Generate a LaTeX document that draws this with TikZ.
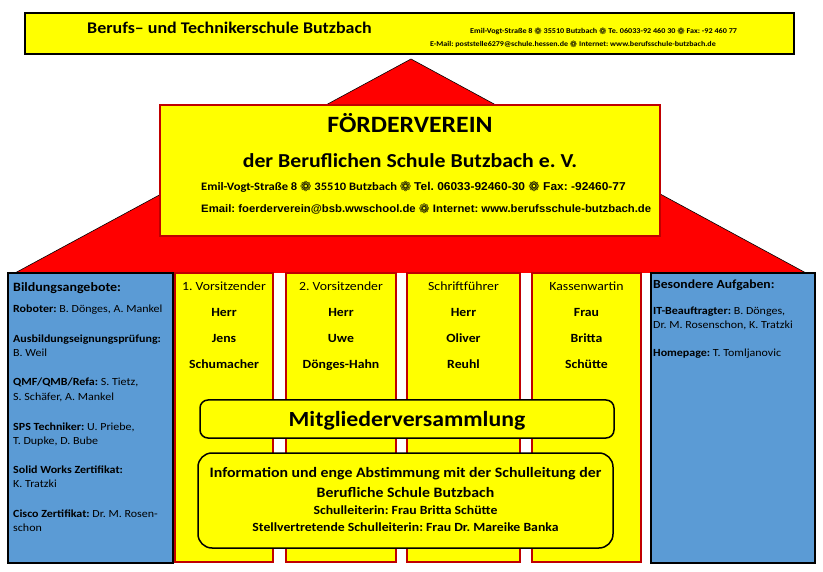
\documentclass[tikz,border=0pt]{standalone}
\usepackage{fontspec}
\setmainfont{Carlito}[FakeStretch=1.1]
\newfontfamily\arialfont{Liberation Sans}[FakeStretch=1.05]
\newfontfamily\symfont{DejaVu Sans}
\definecolor{roofred}{RGB}{255,0,0}
\definecolor{boxyellow}{RGB}{255,255,0}
\definecolor{panelblue}{RGB}{91,155,213}
\definecolor{edgered}{RGB}{192,0,0}
\newcommand\flw{\raisebox{-0.1ex}{\scalebox{1.2}{\symfont\char"2741}}}
\newcommand\fs[1]{\fontsize{#1}{#1}\selectfont}
\frenchspacing
\tikzset{
  colbox/.style={fill=boxyellow, draw=edgered, line width=1.2pt},
  panel/.style={fill=panelblue, draw=black, line width=2pt},
  roundbox/.style={fill=boxyellow, draw=black, line width=1.5pt, rounded corners=10pt},
  txt/.style={inner sep=0pt, anchor=base},
  ltxt/.style={inner sep=0pt, anchor=base west},
}
\begin{document}
\begin{tikzpicture}[x=1pt, y=-1pt]
  \useasboundingbox (0,0) rectangle (823,572);
  \draw[fill=boxyellow, line width=1.6pt] (25,13) rectangle (794,54);
  \node[ltxt, font=\bfseries\fs{16.3}] (school) at (87,34) {Berufs-- und Technikerschule Butzbach};
  \node[ltxt, font=\bfseries\fs{7.4}] (contact1) at (470,34)
    {Emil-Vogt-Straße 8 \flw{} 35510 Butzbach \flw{} Te. 06033-92 460 30 \flw{} Fax: -92 460 77};
  \node[ltxt, font=\bfseries\fs{7.3}] (contact2) at (430,47)
    {E-Mail: poststelle6279@schule.hessen.de \flw{} Internet: www.berufsschule-butzbach.de};
  \fill[roofred] (15,273) -- (411,59) -- (806,273) -- cycle;
  \draw[line width=0.6pt] (15,273) -- (411,59) -- (806,273);
  \draw[fill=boxyellow, draw=edgered, line width=2pt] (160,105) rectangle (660,236);
  \node[txt, font=\bfseries\fs{23.4}] (verein) at (410,133) {FÖRDERVEREIN};
  \node[txt, font=\bfseries\fs{19.8}] (schule) at (410,168) {der Beruflichen Schule Butzbach e. V.};
  \node[ltxt, font=\bfseries\fs{11.4}] (adresse) at (201,191)
    {Emil-Vogt-Straße 8 \flw{} 35510 Butzbach \flw{} {\arialfont Tel. 06033-92460-30 \flw{} Fax: -92460-77}};
  \node[ltxt, font=\arialfont\bfseries\fs{10.8}] (email) at (201,213)
    {Email: foerderverein@bsb.wwschool.de \flw{} Internet: www.berufsschule-butzbach.de};
  \foreach \xa/\xb/\role/\ta/\tb/\tc [count=\i] in {175/273/1. Vorsitzender/Herr/Jens/Schumacher,
      286/396/2. Vorsitzender/Herr/Uwe/Dönges-Hahn, 407/520/Schriftführer/Herr/Oliver/Reuhl,
      532/641/Kassenwartin/Frau/Britta/Schütte}{
    \draw[colbox] (\xa,273) rectangle (\xb,562);
    \node[txt, font=\fs{12.5}] (role\i) at ({(\xa+\xb)/2},291) {\role};
    \node[txt, font=\bfseries\fs{12.5}] (name\i a) at ({(\xa+\xb)/2},317) {\ta};
    \node[txt, font=\bfseries\fs{12.5}] (name\i b) at ({(\xa+\xb)/2},343) {\tb};
    \node[txt, font=\bfseries\fs{12.5}] (name\i c) at ({(\xa+\xb)/2},369) {\tc};
  }
  \draw[roundbox, rounded corners=8pt] (200,400) rectangle (614,438);
  \node[txt, font=\bfseries\fs{21.6}] (mv) at (407,427) {Mitgliederversammlung};
  \draw[roundbox, rounded corners=14pt] (198,453) rectangle (613,548);
  \node[txt, font=\bfseries\fs{14.4}] (info1) at (405.5,477) {Information und enge Abstimmung mit der Schulleitung der};
  \node[txt, font=\bfseries\fs{14.4}] (info2) at (405.5,497) {Berufliche Schule Butzbach};
  \node[txt, font=\bfseries\fs{12.5}] (info3) at (405.5,514) {Schulleiterin: Frau Britta Schütte};
  \node[txt, font=\bfseries\fs{12.5}] (info4) at (405.5,531) {Stellvertretende Schulleiterin: Frau Dr. Mareike Banka};
  \draw[panel] (8,273) rectangle (173,563);
  \draw[panel] (651,273) rectangle (815,563);
  \node[ltxt, font=\bfseries\fs{12.7}] (bildung) at (13,292) {Bildungsangebote:};
  \foreach \yy/\entry [count=\i] in {313/{\textbf{Roboter:} B. Dönges, A. Mankel},
      343/{\textbf{Ausbildungseignungsprüfung:}}, 357/{B. Weil},
      385/{\textbf{QMF/QMB/Refa:} S. Tietz,}, 400/{S. Schäfer, A. Mankel},
      430/{\textbf{SPS Techniker:} U. Priebe,}, 444/{T. Dupke, D. Bube},
      473/{\textbf{Solid Works Zertifikat:}}, 487/{K. Tratzki},
      517/{\textbf{Cisco Zertifikat:} Dr. M. Rosen-}, 531/{schon}}{
    \node[ltxt, font=\fs{10.9}] (left\i) at (13,\yy) {\entry};
  }
  \node[ltxt, font=\bfseries\fs{12.4}] (aufgaben) at (653,289) {Besondere Aufgaben:};
  \foreach \yy/\entry [count=\i] in {314.5/{\textbf{IT-Beauftragter:} B. Dönges,},
      328.5/{Dr. M. Rosenschon, K. Tratzki}, 357/{\textbf{Homepage:} T. Tomljanovic}}{
    \node[ltxt, font=\fs{10.9}] (right\i) at (653,\yy) {\entry};
  }
\end{tikzpicture}
\end{document}
